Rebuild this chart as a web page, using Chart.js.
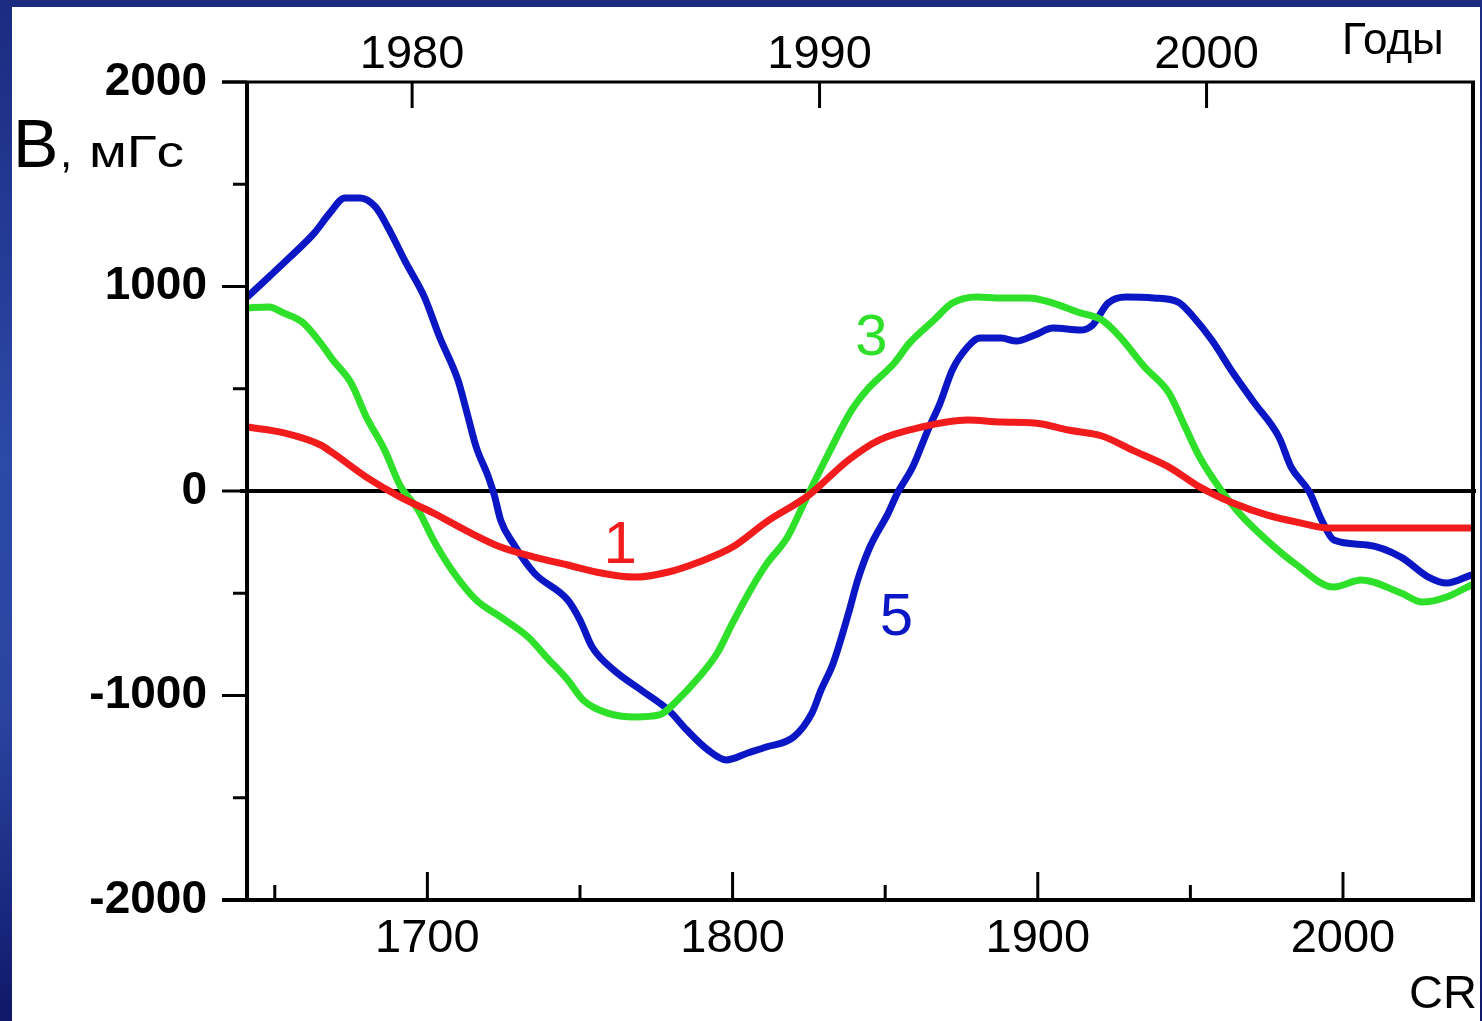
<!DOCTYPE html>
<html>
<head>
<meta charset="utf-8">
<script src="https://cdn.jsdelivr.net/npm/chart.js@4.4.1/dist/chart.umd.min.js"></script>
<style>
  html, body { margin: 0; padding: 0; }
  body {
    width: 1482px; height: 1021px; overflow: hidden; position: relative;
    background: linear-gradient(to bottom, #1b2b80 0%, #2c49a8 45%, #2a44a0 70%, #0f186a 100%);
  }
  #panel { position: absolute; left: 12px; top: 7px; right: 2px; bottom: 0; background: #fff; }
  #c { position: absolute; left: 0; top: 0; }
</style>
</head>
<body>
<div id="panel"></div>
<canvas id="c" width="1482" height="1021"></canvas>
<script>
// --- DATA (Carrington rotation -> B, mG) ---
const crRed = [1641,1653,1665,1669,1680,1691,1702,1713,1724,1735,1746,1757,1768,1779,1789,1800,1811,1825,1838,1848,1862,1877,1888,1899,1910,1921,1931,1943,1953,1964,1975,1986,1995,2042];
const bRed  = [313,284,225,186,68,-29,-108,-196,-274,-323,-362,-401,-421,-396,-347,-274,-152,-20,152,249,313,347,337,333,298,269,200,117,20,-59,-117,-156,-181,-181];

const crGreen = [1641,1648,1653,1659,1665,1669,1675,1680,1686,1691,1697,1702,1708,1716,1724,1733,1739,1746,1751,1759,1768,1776,1782,1789,1795,1800,1806,1811,1818,1824,1831,1839,1844,1853,1858,1866,1872,1880,1888,1897,1905,1913,1921,1927,1935,1943,1948,1953,1960,1966,1975,1984,1997,2006,2019,2026,2034,2042];
const bGreen  = [895,900,870,826,724,641,528,362,200,29,-93,-240,-386,-533,-616,-714,-812,-924,-1022,-1086,-1105,-1095,-1022,-910,-792,-645,-480,-360,-225,-40,170,395,494,626,724,836,919,949,944,944,919,875,836,753,606,479,323,166,5,-108,-240,-352,-469,-435,-499,-543,-518,-460];

const crBlue = [1641,1648,1655,1663,1668,1673,1678,1683,1687,1693,1699,1704,1710,1713,1716,1720,1722,1724,1728,1735,1746,1750,1754,1761,1770,1779,1785,1792,1798,1805,1811,1820,1826,1829,1833,1838,1841,1845,1851,1854,1859,1864,1868,1872,1877,1881,1888,1893,1899,1905,1914,1918,1923,1929,1938,1946,1951,1957,1964,1971,1979,1983,1989,1993,1997,2008,2019,2028,2034,2042];
const bBlue  = [949,1046,1144,1262,1359,1433,1433,1389,1291,1115,949,753,543,381,215,68,-24,-142,-254,-401,-533,-631,-763,-875,-973,-1071,-1169,-1267,-1315,-1281,-1252,-1203,-1086,-973,-841,-597,-435,-274,-108,-10,117,298,430,592,704,748,748,733,763,797,787,812,919,949,944,924,851,738,577,430,264,117,-5,-142,-240,-264,-323,-421,-450,-411];

const crTicks = [1650,1700,1750,1800,1850,1900,1950,2000];
const bTicks = [-2000,-1500,-1000,-500,0,500,1000,1500,2000];
const years = [1980, 1990, 2000];
const yearCR = [1695, 1828.5, 1955.3];

const FONT = "'Liberation Sans', Arial, sans-serif";
const RED = '#f21c1c', GREEN = '#2fe02a', BLUE = '#0b17c4';

const pts = (xs, ys) => xs.map((x, i) => ({ x, y: ys[i] }));

function line(ctx, x1, y1, x2, y2) {
  ctx.beginPath(); ctx.moveTo(x1, y1); ctx.lineTo(x2, y2); ctx.stroke();
}

// text drawn with a horizontal stretch factor
function wideText(ctx, t, x, y, sx) {
  ctx.save();
  ctx.translate(x, y);
  ctx.scale(sx, 1);
  ctx.fillText(t, 0, 0);
  ctx.restore();
}

const frame = {
  id: 'frame',
  beforeDatasetsDraw(chart) {
    const { ctx, chartArea: a, scales: { y } } = chart;
    ctx.save();
    ctx.strokeStyle = '#000';
    ctx.lineWidth = 4;
    const y0 = y.getPixelForValue(0);
    line(ctx, a.left - 7, y0, a.right + 3, y0);
    ctx.restore();
  },
  afterDatasetsDraw(chart) {
    const { ctx, chartArea: a, scales: { x, y } } = chart;
    ctx.save();
    ctx.strokeStyle = '#000';
    ctx.lineCap = 'butt';
    // box
    ctx.lineWidth = 3;
    line(ctx, a.left - 25, a.top, a.right + 2, a.top);
    ctx.lineWidth = 4;
    line(ctx, a.left - 25, a.bottom, a.right + 2, a.bottom);
    line(ctx, a.left, a.top - 1, a.left, a.bottom + 2);
    line(ctx, a.right, a.top - 1, a.right, a.bottom + 2);
    // left ticks (outward)
    ctx.lineWidth = 3;
    bTicks.forEach(v => {
      const py = y.getPixelForValue(v);
      const len = v % 1000 === 0 ? 25 : 14;
      line(ctx, a.left - len, py, a.left, py);
    });
    // bottom ticks (inward)
    crTicks.forEach(v => {
      const px = x.getPixelForValue(v);
      const len = v % 100 === 0 ? 28 : 15;
      line(ctx, px, a.bottom, px, a.bottom - len);
    });
    // top year ticks (inward)
    yearCR.forEach(v => {
      const px = x.getPixelForValue(v);
      line(ctx, px, a.top, px, a.top + 26);
    });

    // texts
    ctx.fillStyle = '#000';
    ctx.textBaseline = 'alphabetic';
    ctx.textAlign = 'left';
    ctx.font = `68px ${FONT}`;
    ctx.fillText('B', 13, 167);
    ctx.font = `44px ${FONT}`;
    ctx.fillText(',', 60, 167);
    wideText(ctx, 'мГс', 89, 167, 1.25);
    ctx.font = `44px ${FONT}`;
    ctx.fillText('Годы', 1342, 54);
    ctx.font = `47px ${FONT}`;
    ctx.fillText('CR', 1409, 1008);

    // curve numbers
    ctx.textAlign = 'center';
    const tags = [['1', RED, 1763.2, -352, 60], ['3', GREEN, 1845.5, 665, 58], ['5', BLUE, 1853.7, -704, 60]];
    tags.forEach(([t, c, cx, cy, fs]) => {
      ctx.font = `${fs}px ${FONT}`;
      ctx.fillStyle = c;
      ctx.fillText(t, x.getPixelForValue(cx), y.getPixelForValue(cy));
    });
    ctx.restore();
  }
};

const ds = (data, color) => ({
  data, borderColor: color, borderWidth: 7, pointRadius: 0, fill: false,
  cubicInterpolationMode: 'monotone', borderCapStyle: 'round', borderJoinStyle: 'round'
});

new Chart(document.getElementById('c'), {
  type: 'line',
  data: {
    datasets: [
      ds(pts(crRed, bRed), RED),
      ds(pts(crGreen, bGreen), GREEN),
      ds(pts(crBlue, bBlue), BLUE)
    ]
  },
  options: {
    responsive: false,
    animation: false,
    devicePixelRatio: 1,
    layout: { padding: { left: 0, right: 9, top: 0, bottom: 0 } },
    plugins: { legend: { display: false }, tooltip: { enabled: false } },
    scales: {
      x: {
        type: 'linear', position: 'bottom', min: 1640.9, max: 2042.6,
        grid: { display: false }, border: { display: false },
        afterBuildTicks: s => { s.ticks = crTicks.map(v => ({ value: v })); },
        afterFit: s => { s.height = 121; },
        ticks: {
          autoSkip: false, maxRotation: 0, padding: 3, color: '#000',
          font: { family: FONT, size: 47 },
          callback: v => (v % 100 === 0 ? String(v) : '')
        }
      },
      x2: {
        type: 'linear', position: 'top', min: 1640.9, max: 2042.6,
        grid: { display: false }, border: { display: false },
        afterBuildTicks: s => { s.ticks = yearCR.map(v => ({ value: v })); },
        afterFit: s => { s.height = 82; },
        ticks: {
          autoSkip: false, maxRotation: 0, padding: -9, color: '#000',
          font: { family: FONT, size: 47 },
          callback: v => String(years[yearCR.indexOf(v)])
        }
      },
      y: {
        type: 'linear', min: -2000, max: 2000,
        grid: { display: false }, border: { display: false },
        afterBuildTicks: s => { s.ticks = bTicks.map(v => ({ value: v })); },
        afterFit: s => { s.width = 247; },
        ticks: {
          autoSkip: false, padding: 32, color: '#000',
          font: { family: FONT, size: 46, weight: 'bold' },
          callback: v => (v % 1000 === 0 ? String(v) : '')
        }
      }
    }
  },
  plugins: [frame]
});
</script>
</body>
</html>
